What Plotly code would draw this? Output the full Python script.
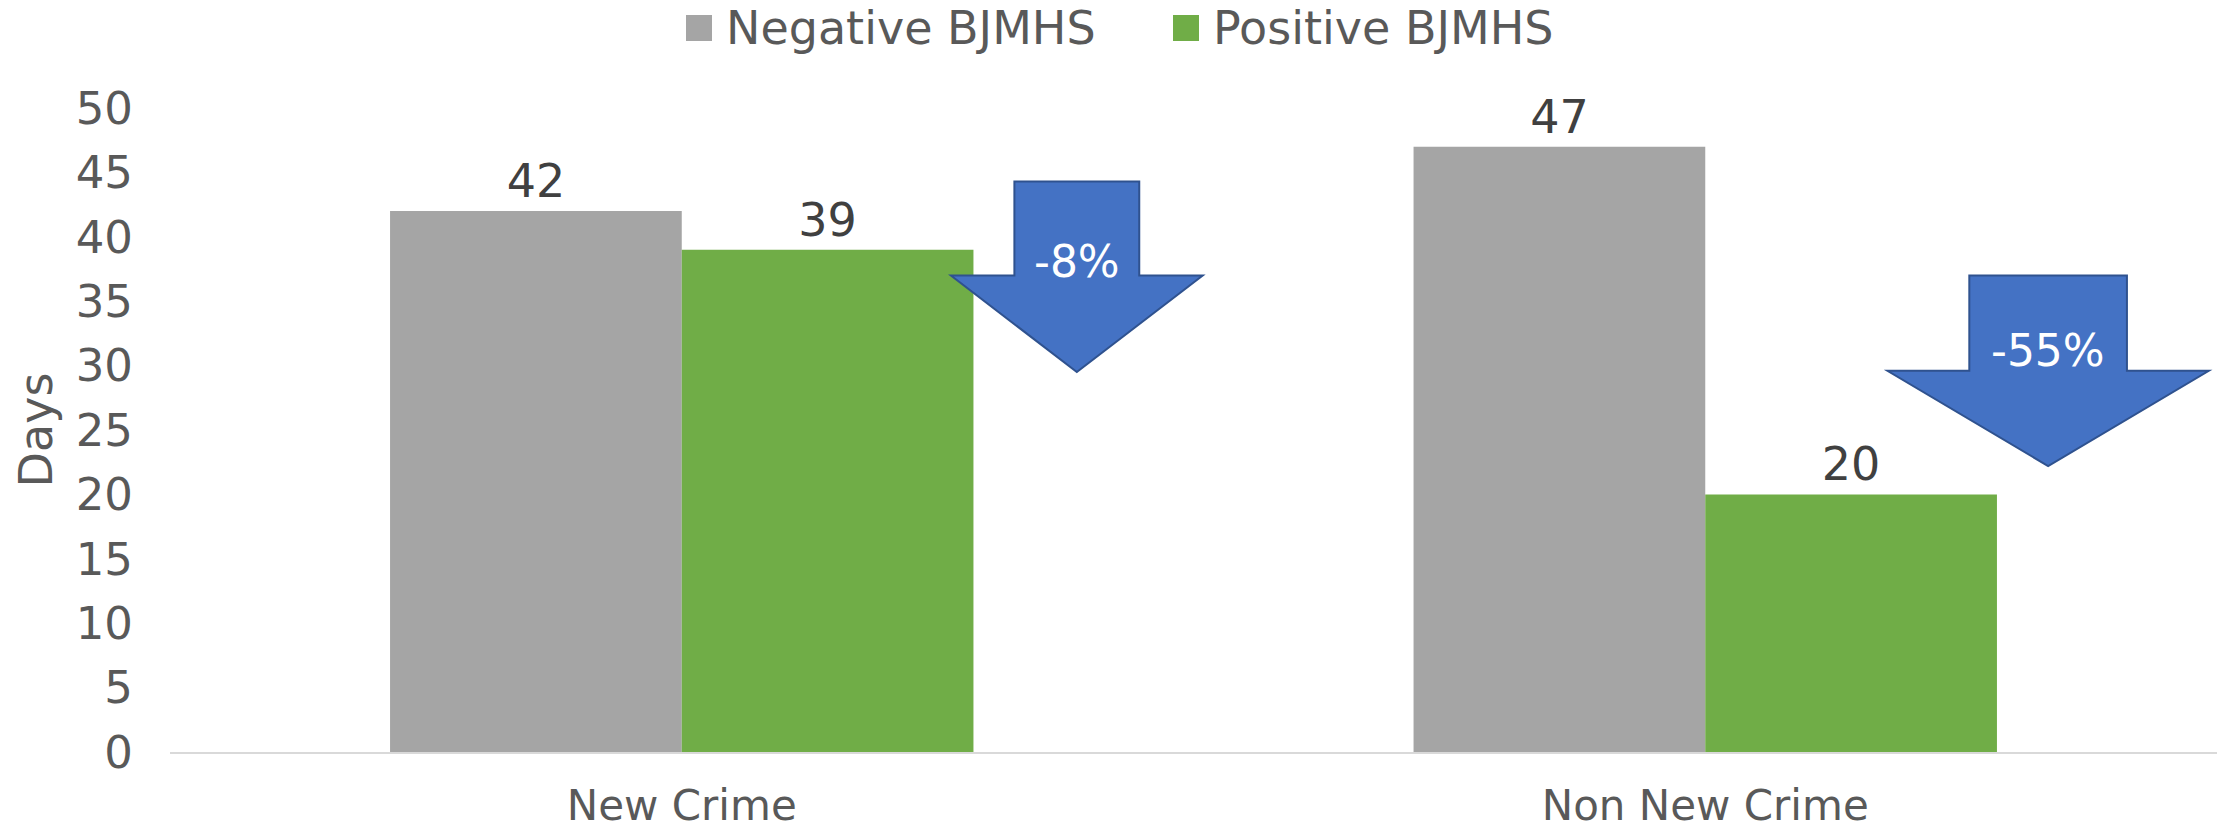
import plotly.graph_objects as go

# ---- data ----
categories = ["New Crime", "Non New Crime"]
negative_days = [42, 47]
positive_days = [39, 20]
series_names = ["Negative BJMHS", "Positive BJMHS"]
change_labels = ["-8%", "-55%"]
y_ticks = [0, 5, 10, 15, 20, 25, 30, 35, 40, 45, 50]

GRAY = "#A5A5A5"
GREEN = "#70AD47"
ARROW_FILL = "#4472C4"
ARROW_LINE = "#2F528F"
FONT = "DejaVu Sans"

W, H = 2227, 833
ML, MR, MT, MB = 170, 10, 108, 81
PW, PH = W - ML - MR, H - MT - MB


def px_x(px):
    return (px - ML) / PW


def px_y(py):
    return (H - MB - py) / PH


fig = go.Figure()
for name, vals, col in [(series_names[0], negative_days, GRAY),
                        (series_names[1], positive_days, GREEN)]:
    fig.add_trace(go.Bar(
        x=categories, y=vals, name=name, marker_color=col,
        marker_line_width=0,
        text=vals, texttemplate="%{y}", textposition="outside",
        textfont=dict(family=FONT, size=46, color="#404040"),
        cliponaxis=False, showlegend=False,
    ))


def down_arrow(cx, shaft_half, head_half, shaft_top, head_top, tip):
    """Block down-arrow path in data coordinates (x: category index, y: days)."""
    pts = [
        (cx - shaft_half, shaft_top), (cx + shaft_half, shaft_top),
        (cx + shaft_half, head_top), (cx + head_half, head_top),
        (cx, tip), (cx - head_half, head_top),
        (cx - shaft_half, head_top),
    ]
    return "M" + " L".join(f"{x},{y}" for x, y in pts) + " Z"


# arrow geometry: (centre x, shaft half-width, head half-width, shaft top, head top, tip, label y)
arrows = [
    (0.386, 0.061, 0.123, 44.3, 37.0, 29.5, 38.05),
    (1.335, 0.077, 0.157, 37.0, 29.6, 22.2, 31.2),
]
for (cx, sh, hh, st, ht, tp, ly), lab in zip(arrows, change_labels):
    fig.add_shape(type="path", path=down_arrow(cx, sh, hh, st, ht, tp),
                  xref="x", yref="y", fillcolor=ARROW_FILL,
                  line=dict(color=ARROW_LINE, width=2), layer="above")
    fig.add_annotation(x=cx, y=ly, xref="x", yref="y", text=lab,
                       showarrow=False,
                       font=dict(family=FONT, size=44, color="white"))

# legend drawn at the top centre
legend_items = [(686, GRAY, series_names[0]), (1173, GREEN, series_names[1])]
for x0, col, name in legend_items:
    fig.add_shape(type="rect", xref="paper", yref="paper",
                  x0=px_x(x0), x1=px_x(x0 + 26), y0=px_y(41), y1=px_y(15),
                  fillcolor=col, line_width=0)
    fig.add_annotation(x=px_x(x0 + 38), y=px_y(28), xref="paper", yref="paper",
                       text=name, showarrow=False, xanchor="left", yanchor="middle",
                       font=dict(family=FONT, size=46, color="#595959"))

fig.update_layout(
    width=W, height=H,
    margin=dict(l=ML, r=MR, t=MT, b=MB, autoexpand=False),
    paper_bgcolor="white", plot_bgcolor="white",
    barmode="group", bargap=0.43, bargroupgap=0,
    font=dict(family=FONT, color="#595959"),
    showlegend=False,
)
fig.update_xaxes(
    range=[-0.5, 1.5], showgrid=False, showline=True, linecolor="#D9D9D9",
    linewidth=2, ticks="", ticklabelstandoff=16, automargin=False,
    tickfont=dict(family=FONT, size=42, color="#595959"),
)
fig.update_yaxes(
    range=[0, 50], tickvals=y_ticks, showgrid=False, showline=False,
    zeroline=False, ticks="", ticklabelstandoff=36, automargin=False,
    tickfont=dict(family=FONT, size=45, color="#595959"),
    title=dict(text="Days", standoff=8,
               font=dict(family=FONT, size=46, color="#595959")),
)

fig.write_html("out.html")
